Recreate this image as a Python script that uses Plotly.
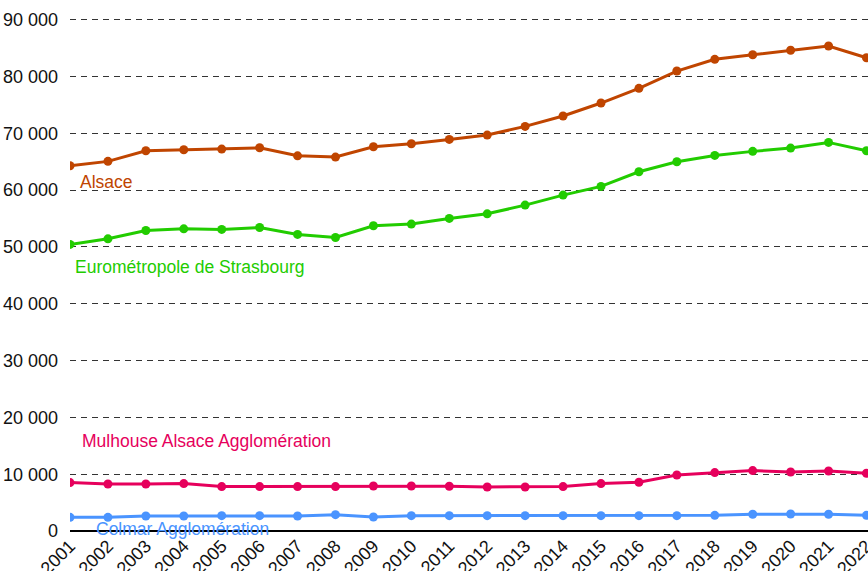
import plotly.graph_objects as go

years = list(range(2001, 2023))

alsace = [64280, 65060, 66930, 67100, 67220, 67450, 66040, 65820, 67630, 68160,
          68930, 69690, 71220, 73040, 75330, 77910, 80960, 83020, 83830, 84610,
          85360, 83300]
eurometropole = [50440, 51430, 52900, 53190, 53080, 53430, 52200, 51670, 53720, 54020,
                 55020, 55830, 57360, 59120, 60650, 63230, 64990, 66110, 66820, 67400,
                 68400, 66930]
mulhouse = [8520, 8280, 8280, 8340, 7820, 7820, 7820, 7820, 7930, 7930,
            7870, 7750, 7750, 7820, 8340, 8580, 9860, 10280, 10630, 10390,
            10570, 10160]
colmar = [2410, 2410, 2640, 2640, 2700, 2700, 2640, 2880, 2470, 2700,
          2700, 2700, 2700, 2700, 2700, 2700, 2700, 2760, 2940, 3000,
          2940, 2760]

series = [
    ("Alsace", alsace, "#C04500"),
    ("Eurométropole de Strasbourg", eurometropole, "#22CC00"),
    ("Mulhouse Alsace Agglomération", mulhouse, "#E6005C"),
    ("Colmar Agglomération", colmar, "#4A94FF"),
]

y_ticks = list(range(0, 90001, 10000))
y_tick_labels = [f"{v:,}".replace(",", " ") for v in y_ticks]

FONT = "Liberation Sans, Arial, sans-serif"

fig = go.Figure()
for name, vals, color in series:
    fig.add_trace(go.Scatter(
        x=years, y=vals, name=name, mode="lines+markers",
        line=dict(color=color, width=3),
        marker=dict(color=color, size=9),
    ))

# series labels placed next to the lines
labels = [
    ("Alsace", 2001.2, 61500, "#C04500"),
    ("Eurométropole de Strasbourg", 2001.08, 46400, "#22CC00"),
    ("Mulhouse Alsace Agglomération", 2001.26, 15800, "#E6005C"),
    ("Colmar Agglomération", 2001.63, 300, "#4A94FF"),
]
for text, lx, ly, color in labels:
    fig.add_annotation(x=lx, y=ly, text=text, showarrow=False,
                       xanchor="left", yanchor="middle",
                       font=dict(color=color, size=17.5, family=FONT))

fig.update_layout(
    width=868, height=571,
    margin=dict(l=70, r=0, t=14, b=40, autoexpand=False),
    plot_bgcolor="white", paper_bgcolor="white",
    showlegend=False,
    font=dict(family=FONT, size=18, color="#111111"),
)
fig.update_xaxes(
    range=[2001, 2022.04], tickmode="array", tickvals=years,
    ticktext=[str(y) for y in years], tickangle=-45, automargin=False,
    showgrid=False, zeroline=False, showline=False,
    ticklabeloverflow="allow", tickfont=dict(size=18),
)
fig.update_yaxes(
    range=[0, 91000], tickmode="array", tickvals=y_ticks, ticktext=y_tick_labels,
    automargin=False,
    showgrid=True, gridcolor="#333333", gridwidth=1, griddash="6px,5px",
    zeroline=True, zerolinecolor="black", zerolinewidth=1.5,
    ticklabelstandoff=11, tickfont=dict(size=18),
)

# drop the default body margin so the figure fills the window
fig.write_html("out.html", config={"displayModeBar": False},
               post_script="document.body.style.margin='0';")
